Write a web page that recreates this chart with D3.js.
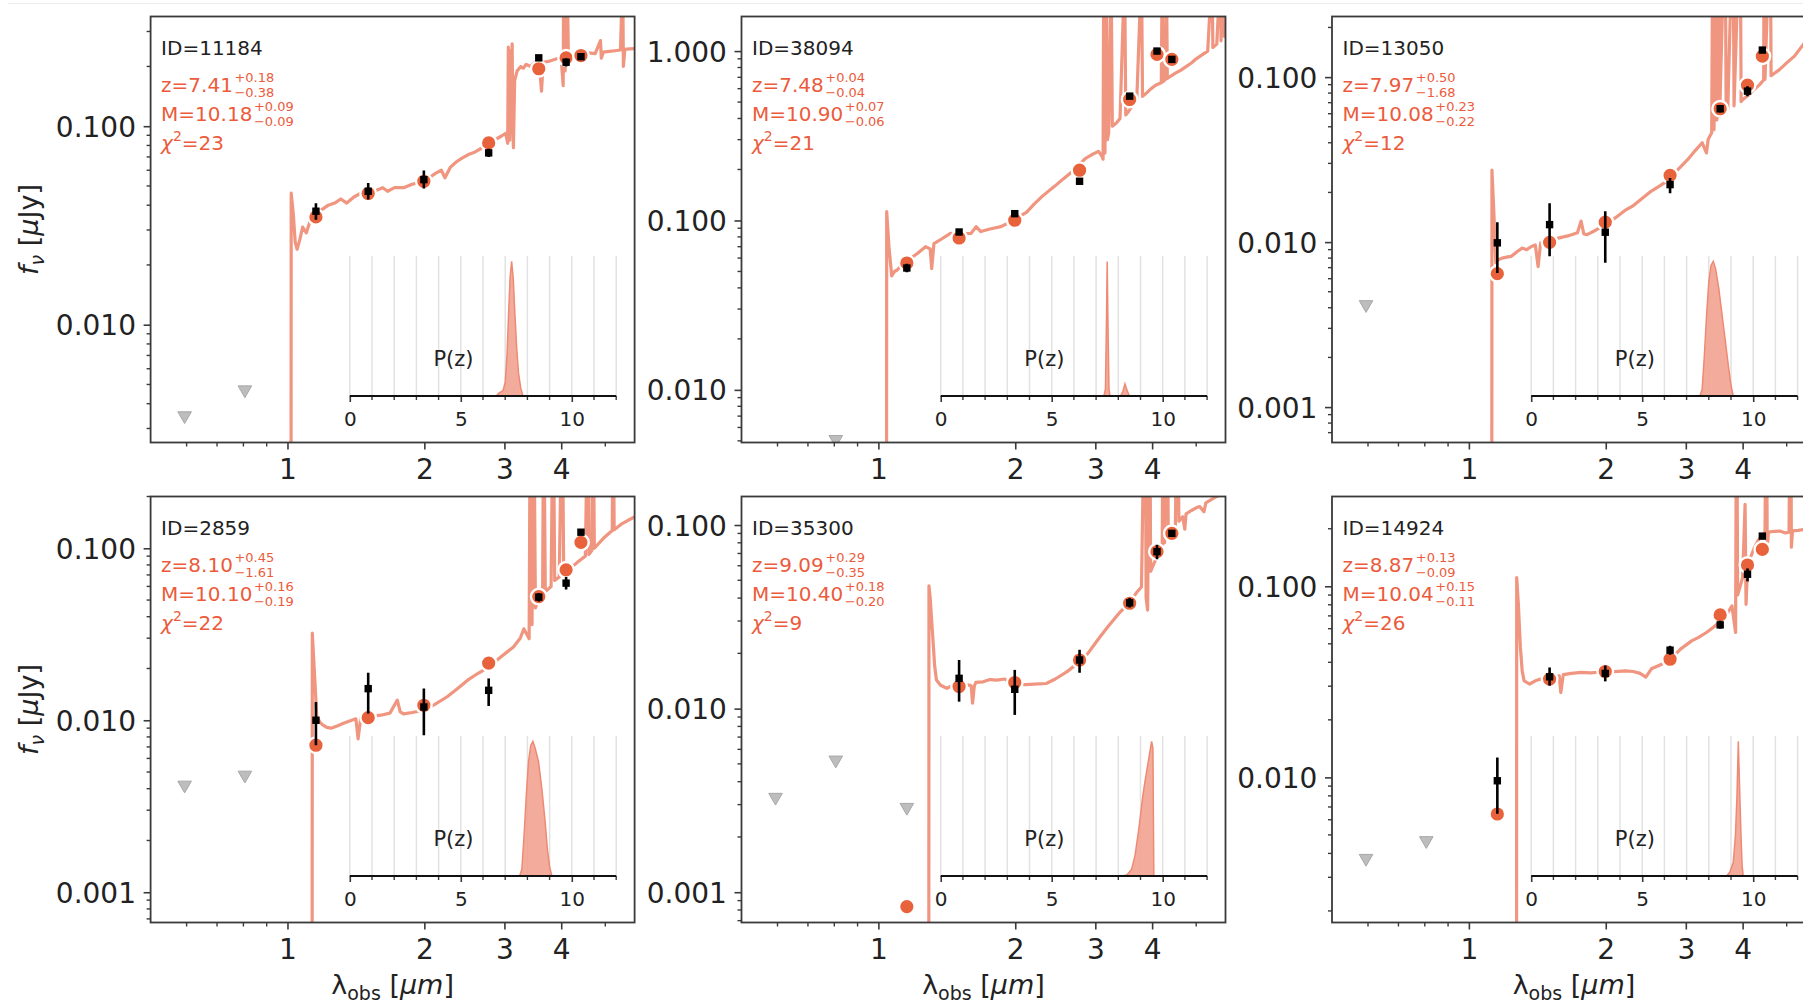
<!DOCTYPE html>
<html>
<head>
<meta charset="utf-8">
<script src="https://cdn.jsdelivr.net/npm/d3@7"></script>
<style>
  body { margin: 0; background: #fff; }
  svg { display: block; font-family: "DejaVu Sans", sans-serif; }
</style>
</head>
<body>
<svg id="viz"></svg>
<script>
// ---- data ----
let panelIds = ["11184", "38094", "13050", "2859", "35300", "14924"];
let zBest = ["7.41", "7.48", "7.97", "8.10", "9.09", "8.87"];
let zUp = ["+0.18", "+0.04", "+0.50", "+0.45", "+0.29", "+0.13"];
let zDown = ["−0.38", "−0.04", "−1.68", "−1.61", "−0.35", "−0.09"];
let massBest = ["10.18", "10.90", "10.08", "10.10", "10.40", "10.04"];
let massUp = ["+0.09", "+0.07", "+0.23", "+0.16", "+0.18", "+0.15"];
let massDown = ["−0.09", "−0.06", "−0.22", "−0.19", "−0.20", "−0.11"];
let chi2 = ["23", "21", "12", "22", "9", "26"];

// filter pivot wavelengths (micron)
let filterLam = [0.594, 0.806, 1.155, 1.505, 1.995, 2.77, 3.57, 4.10, 4.42];

let obsFlux = [
  [null, null, 0.0373, 0.047, 0.0538, 0.0734, 0.221, 0.210, 0.224],
  [null, null, 0.0524, 0.0855, 0.1097, 0.1704, 0.542, 1.0, 0.893],
  [null, null, 0.0099, 0.01276, 0.01148, 0.0223, 0.0643, 0.0822, 0.1458],
  [null, null, 0.0100, 0.01527, 0.01195, 0.01493, 0.052, 0.0627, 0.124],
  [null, null, null, 0.01462, 0.01274, 0.0184, 0.0377, 0.0716, 0.0901],
  [null, null, 0.0096, 0.0336, 0.0350, 0.0463, 0.0628, 0.1156, 0.183]
];
let obsLo = [
  [null, null, 0.0338, 0.0427, 0.0485, 0.070, 0.214, 0.200, 0.218],
  [null, null, 0.0495, 0.082, 0.105, 0.165, 0.525, 0.97, 0.87],
  [null, null, 0.0065, 0.00822, 0.0075, 0.0198, 0.061, 0.0765, 0.141],
  [null, null, 0.00716, 0.01094, 0.00818, 0.0121, 0.049, 0.0575, 0.119],
  [null, null, null, 0.01091, 0.00924, 0.0157, 0.0355, 0.0650, 0.086],
  [null, null, 0.00645, 0.0302, 0.0318, 0.0438, 0.060, 0.106, 0.178]
];
let obsHi = [
  [null, null, 0.0409, 0.0518, 0.0598, 0.077, 0.228, 0.220, 0.230],
  [null, null, 0.0555, 0.089, 0.114, 0.176, 0.56, 1.03, 0.915],
  [null, null, 0.0132, 0.0172, 0.0154, 0.0245, 0.0675, 0.088, 0.150],
  [null, null, 0.01277, 0.0189, 0.0153, 0.0175, 0.055, 0.068, 0.129],
  [null, null, null, 0.0184, 0.01625, 0.0209, 0.040, 0.078, 0.094],
  [null, null, 0.0127, 0.0376, 0.0385, 0.0488, 0.066, 0.124, 0.188]
];
let modelFlux = [
  [null, null, 0.0349, 0.0458, 0.0528, 0.0824, 0.1947, 0.221, 0.227],
  [null, null, 0.0561, 0.0788, 0.1003, 0.198, 0.518, 0.956, 0.893],
  [null, null, 0.00644, 0.00997, 0.0132, 0.0254, 0.0643, 0.0894, 0.134],
  [null, null, 0.00716, 0.01035, 0.01222, 0.0215, 0.0524, 0.0749, 0.1083],
  [null, null, 0.000835, 0.0132, 0.01387, 0.0184, 0.0375, 0.0716, 0.0901],
  [null, null, 0.00643, 0.0327, 0.0358, 0.0415, 0.0708, 0.1292, 0.156]
];
// upper limits (grey triangles)
let limitFlux = [
  [0.00348, 0.0047, null, null, null, null, null, null, null],
  [null, 0.0051, null, null, null, null, null, null, null],
  [0.00418, null, null, null, null, null, null, null, null],
  [0.0042, 0.0048, null, null, null, null, null, null, null],
  [0.00329, 0.00525, 0.0029, null, null, null, null, null, null],
  [0.00377, 0.00467, null, null, null, null, null, null, null]
];

let xDomain = [0.5, 5.8];
let xMajor = [1, 2, 3, 4];
let xMinor = [0.6, 0.7, 0.8, 0.9, 5];
let yDomains = [
  [0.00255, 0.357],
  [0.00489, 1.60],
  [0.00061, 0.233],
  [0.000667, 0.20],
  [0.000684, 0.143],
  [0.00174, 0.295]
];
let yTickVals = [
  [0.01, 0.1],
  [0.01, 0.1, 1],
  [0.001, 0.01, 0.1],
  [0.001, 0.01, 0.1],
  [0.001, 0.01, 0.1],
  [0.01, 0.1]
];

// best-fit model spectra [lambda, f_nu]
let spec11184 = [[0.5,1e-6],[1.017,1e-6],[1.019,0.046],[1.03,0.036],[1.04,0.026],[1.05,0.024],[1.065,0.027],[1.08,0.031],[1.10,0.029],[1.12,0.033],[1.15,0.036],[1.19,0.038],[1.23,0.040],[1.27,0.041],[1.31,0.043],[1.35,0.041],[1.40,0.044],[1.45,0.046],[1.55,0.047],[1.62,0.049],[1.66,0.047],[1.72,0.049],[1.80,0.049],[1.88,0.051],[1.95,0.052],[2.05,0.055],[2.12,0.058],[2.18,0.060],[2.22,0.055],[2.28,0.062],[2.35,0.066],[2.42,0.069],[2.50,0.072],[2.58,0.074],[2.66,0.077],[2.75,0.081],[2.85,0.085],[2.95,0.089],[3.02,0.092],[3.05,0.082],[3.06,0.25],[3.07,0.10],[3.08,0.085],[3.09,0.24],[3.10,0.11],[3.12,0.26],[3.13,0.095],[3.14,0.078],[3.16,0.17],[3.20,0.19],[3.26,0.20],[3.30,0.196],[3.35,0.205],[3.42,0.20],[3.50,0.21],[3.58,0.205],[3.62,0.15],[3.65,0.21],[3.75,0.212],[3.85,0.216],[3.95,0.22],[4.00,0.218],[4.04,0.16],[4.05,0.6],[4.08,0.19],[4.12,0.6],[4.15,0.21],[4.22,0.225],[4.32,0.23],[4.45,0.228],[4.60,0.234],[4.75,0.232],[4.88,0.27],[4.90,0.22],[4.95,0.236],[5.10,0.238],[5.25,0.24],[5.40,0.242],[5.46,0.6],[5.48,0.20],[5.52,0.244],[5.65,0.245],[5.8,0.246]];
let spec38094 = [[0.5,1e-6],[1.041,1e-6],[1.043,0.113],[1.055,0.07],[1.07,0.047],[1.085,0.05],[1.10,0.051],[1.13,0.055],[1.17,0.059],[1.22,0.064],[1.27,0.070],[1.30,0.068],[1.31,0.052],[1.325,0.073],[1.38,0.078],[1.44,0.084],[1.52,0.083],[1.60,0.084],[1.64,0.092],[1.68,0.086],[1.76,0.089],[1.86,0.092],[1.95,0.098],[2.05,0.106],[2.12,0.112],[2.2,0.125],[2.28,0.137],[2.36,0.148],[2.44,0.159],[2.55,0.176],[2.65,0.191],[2.75,0.21],[2.85,0.232],[2.95,0.245],[3.05,0.256],[3.10,0.24],[3.12,0.23],[3.13,3],[3.15,0.25],[3.17,3],[3.19,0.3],[3.21,0.33],[3.25,3],[3.27,0.36],[3.34,0.377],[3.40,0.40],[3.48,3],[3.50,0.42],[3.55,0.44],[3.62,0.48],[3.70,0.51],[3.79,3],[3.81,0.54],[3.90,0.57],[3.98,0.60],[4.08,0.63],[4.19,0.65],[4.21,3],[4.23,0.66],[4.28,0.68],[4.30,3],[4.32,0.69],[4.39,0.71],[4.5,0.74],[4.62,0.77],[4.75,0.81],[4.88,0.85],[5.0,0.90],[5.15,0.95],[5.30,1.0],[5.42,3],[5.44,1.05],[5.55,1.1],[5.65,3],[5.67,1.15],[5.75,3],[5.77,1.22],[5.8,1.25]];
let spec13050 = [[0.5,1e-6],[1.122,1e-6],[1.124,0.0273],[1.135,0.015],[1.146,0.0075],[1.16,0.0078],[1.183,0.0080],[1.21,0.0081],[1.24,0.0082],[1.28,0.0088],[1.31,0.0092],[1.34,0.0090],[1.373,0.0094],[1.40,0.0096],[1.42,0.0071],[1.438,0.0099],[1.50,0.0102],[1.58,0.0106],[1.65,0.0109],[1.733,0.0114],[1.765,0.0134],[1.79,0.0112],[1.82,0.0111],[1.90,0.0118],[1.97,0.0125],[2.05,0.0134],[2.126,0.0144],[2.2,0.0155],[2.29,0.0165],[2.40,0.0183],[2.515,0.0203],[2.64,0.0221],[2.76,0.0239],[2.90,0.028],[3.03,0.0317],[3.15,0.036],[3.26,0.040],[3.33,0.0347],[3.36,0.042],[3.42,0.046],[3.44,1],[3.46,0.048],[3.49,1],[3.51,0.055],[3.54,1],[3.56,0.058],[3.66,1],[3.68,0.062],[3.71,0.064],[3.81,1],[3.83,0.067],[3.95,1],[3.97,0.071],[4.0,0.073],[4.12,0.078],[4.24,0.084],[4.36,0.09],[4.45,0.096],[4.46,1],[4.48,0.097],[4.60,1],[4.62,0.102],[4.82,0.111],[5.0,0.122],[5.2,0.134],[5.48,0.162],[5.8,0.18]];
let spec2859 = [[0.5,1e-6],[1.132,1e-6],[1.134,0.0321],[1.145,0.02],[1.16,0.0105],[1.18,0.0097],[1.195,0.0094],[1.22,0.0091],[1.247,0.0090],[1.29,0.0093],[1.328,0.0096],[1.37,0.0099],[1.414,0.0102],[1.43,0.0078],[1.45,0.0104],[1.52,0.0105],[1.604,0.0107],[1.68,0.0110],[1.744,0.0131],[1.77,0.0112],[1.80,0.0109],[1.88,0.0111],[1.987,0.0114],[2.1,0.0123],[2.245,0.0137],[2.36,0.0152],[2.49,0.0171],[2.62,0.0187],[2.77,0.0204],[2.95,0.0234],[3.14,0.0267],[3.25,0.030],[3.31,0.034],[3.40,0.0298],[3.42,0.9],[3.45,0.036],[3.48,0.9],[3.51,0.045],[3.56,0.0497],[3.64,0.053],[3.66,0.9],[3.69,0.056],[3.80,0.060],[3.84,0.9],[3.87,0.065],[3.96,0.068],[4.02,0.9],[4.05,0.071],[4.12,0.074],[4.25,0.079],[4.39,0.085],[4.52,0.090],[4.58,0.9],[4.60,0.092],[4.67,0.097],[4.70,0.9],[4.73,0.100],[4.98,0.116],[5.18,0.127],[5.20,0.9],[5.23,0.128],[5.42,0.138],[5.6,0.145],[5.8,0.152]];
let spec35300 = [[0.5,1e-6],[1.29,1e-6],[1.292,0.0466],[1.30,0.04],[1.314,0.0268],[1.33,0.017],[1.342,0.0143],[1.37,0.0134],[1.414,0.0129],[1.46,0.0134],[1.538,0.0137],[1.60,0.0133],[1.611,0.0107],[1.625,0.0132],[1.638,0.0139],[1.70,0.0140],[1.76,0.0144],[1.82,0.0143],[1.898,0.0145],[1.95,0.0138],[2.02,0.0136],[2.107,0.0135],[2.2,0.0136],[2.34,0.0137],[2.45,0.0145],[2.6,0.0159],[2.75,0.0178],[2.89,0.020],[3.05,0.024],[3.2,0.028],[3.38,0.033],[3.56,0.0375],[3.70,0.043],[3.79,0.046],[3.86,0.9],[3.88,0.040],[3.91,0.0344],[3.95,0.9],[3.97,0.056],[4.04,0.062],[4.12,0.069],[4.21,0.076],[4.23,0.9],[4.26,0.080],[4.32,0.9],[4.34,0.085],[4.39,0.090],[4.50,0.100],[4.55,0.9],[4.58,0.105],[4.67,0.111],[4.72,0.095],[4.75,0.115],[4.88,0.12],[5.0,0.124],[5.09,0.126],[5.2,0.118],[5.25,0.132],[5.53,0.1426],[5.8,0.150]];
let spec14924 = [[0.5,1e-6],[1.272,1e-6],[1.274,0.111],[1.285,0.08],[1.298,0.048],[1.31,0.036],[1.323,0.032],[1.36,0.0308],[1.40,0.032],[1.438,0.0327],[1.48,0.033],[1.521,0.0333],[1.58,0.034],[1.593,0.0278],[1.613,0.0345],[1.68,0.035],[1.765,0.0354],[1.85,0.0352],[1.93,0.0355],[2.0,0.0356],[2.1,0.0358],[2.21,0.0361],[2.30,0.0358],[2.38,0.035],[2.45,0.0335],[2.52,0.037],[2.61,0.0384],[2.76,0.0408],[2.92,0.0469],[3.09,0.0518],[3.20,0.054],[3.33,0.0573],[3.45,0.061],[3.58,0.0659],[3.70,0.072],[3.79,0.0789],[3.86,0.0573],[3.88,2],[3.90,0.09],[4.0,0.111],[4.05,0.268],[4.07,0.0805],[4.10,0.125],[4.16,0.141],[4.24,0.158],[4.32,0.1725],[4.40,0.185],[4.48,0.19],[4.51,2],[4.53,0.159],[4.56,0.192],[4.70,0.194],[4.83,0.1946],[4.97,0.19],[5.06,0.192],[5.10,2],[5.12,0.16],[5.15,0.195],[5.30,0.196],[5.48,0.1986],[5.8,0.20]];
let specs = [spec11184, spec38094, spec13050, spec2859, spec35300, spec14924];

// redshift probability distributions [z, P (peak = 1)]
let pz11184 = [[6.6,0],[6.7,0.02],[6.9,0.04],[7.0,0.1],[7.08,0.3],[7.15,0.6],[7.22,0.88],[7.29,1.0],[7.36,0.88],[7.44,0.6],[7.52,0.35],[7.6,0.17],[7.7,0.06],[7.8,0]];
let pz38094 = [[7.35,0],[7.42,0.05],[7.47,0.6],[7.5,1.0],[7.53,0.6],[7.58,0.05],[7.63,0],[8.1,0],[8.2,0.03],[8.3,0.09],[8.4,0.04],[8.5,0]];
let pz13050 = [[7.6,0],[7.7,0.05],[7.8,0.3],[7.9,0.6],[8.0,0.85],[8.1,0.97],[8.2,1.0],[8.3,0.95],[8.45,0.8],[8.6,0.6],[8.75,0.4],[8.9,0.2],[9.0,0.08],[9.1,0]];
let pz2859 = [[7.65,0],[7.75,0.05],[7.85,0.3],[7.95,0.6],[8.05,0.85],[8.15,0.97],[8.25,1.0],[8.35,0.95],[8.5,0.85],[8.65,0.65],[8.8,0.4],[8.9,0.2],[9.0,0.07],[9.1,0]];
let pz35300 = [[8.2,0],[8.4,0.01],[8.6,0.05],[8.75,0.15],[8.9,0.32],[9.0,0.45],[9.1,0.59],[9.2,0.7],[9.3,0.8],[9.4,0.9],[9.5,1.0],[9.56,0.95],[9.6,0]];
let pz14924 = [[8.8,0],[8.95,0.03],[9.1,0.1],[9.2,0.3],[9.27,0.6],[9.33,1.0],[9.38,0.7],[9.45,0.3],[9.5,0.08],[9.55,0]];
let pzs = [pz11184, pz38094, pz13050, pz2859, pz35300, pz14924];

let pzMajor = [0, 5, 10];
let pzMinor = [1, 2, 3, 4, 6, 7, 8, 9, 11, 12];
let pzGrid = [0, 1, 2, 3, 4, 5, 6, 7, 8, 9, 10, 11, 12];

// ---- layout ----
let width = 1803, height = 1002;
let panelW = 484, panelH = 426;
let colLeft = [150.6, 741.5, 1332];
let rowTop = [16.5, 496.5];
let insetLeft = 199.2, insetTop = 239.5, insetW = 266.4, insetH = 140;

let specColor = "#f0957f";
let modelColor = "#e8623c";
let textRed = "#ec5b3c";
let inkColor = "#222";
let spineColor = "#3a3a3a";

let svg = d3.select("#viz")
    .attr("width", width)
    .attr("height", height);

svg.append("line")
    .attr("x1", 8).attr("x2", width)
    .attr("y1", 3.5).attr("y2", 3.5)
    .attr("stroke", "#ececec").attr("stroke-width", 1);

let xScale = d3.scaleLog().domain(xDomain).range([0, panelW]);
let zScale = d3.scaleLinear().domain([0, 12]).range([0, insetW]);
let pScale = d3.scaleLinear().domain([0, 1.04]).range([insetH, 0]);

function styleAxis(ax, size) {
    ax.attr("font-size", null).attr("font-family", null);
    ax.select(".domain").remove();
    ax.selectAll("line").attr("stroke", spineColor).attr("stroke-width", 1.6);
    ax.selectAll("text").attr("fill", inkColor).attr("font-size", size);
}

panelIds.forEach(function(id, i) {
    let col = i % 3, row = Math.floor(i / 3);
    let g = svg.append("g")
        .attr("transform", "translate(" + colLeft[col] + "," + rowTop[row] + ")");
    let y = d3.scaleLog().domain(yDomains[i]).range([panelH, 0]);

    g.append("clipPath").attr("id", "clip" + i)
        .append("rect").attr("width", panelW).attr("height", panelH);
    let plot = g.append("g").attr("clip-path", "url(#clip" + i + ")");

    // model spectrum
    plot.append("path")
        .datum(specs[i])
        .attr("d", d3.line().x(d => xScale(d[0])).y(d => y(d[1])))
        .attr("fill", "none")
        .attr("stroke", specColor)
        .attr("stroke-width", 3.2)
        .attr("stroke-linejoin", "round");

    // upper limits
    let lims = filterLam.map((l, k) => [l, limitFlux[i][k]]).filter(d => d[1] != null);
    plot.selectAll("path.lim")
        .data(lims)
        .enter().append("path")
        .attr("class", "lim")
        .attr("d", d3.symbol(d3.symbolTriangle, 80))
        .attr("transform", d => "translate(" + xScale(d[0]) + "," + y(d[1]) + ") rotate(180)")
        .attr("fill", "#bdbdbd")
        .attr("stroke", "#a8a8a8")
        .attr("stroke-width", 1);

    // model photometry
    let mods = filterLam.map((l, k) => [l, modelFlux[i][k]]).filter(d => d[1] != null);
    plot.selectAll("circle.mod")
        .data(mods)
        .enter().append("circle")
        .attr("class", "mod")
        .attr("cx", d => xScale(d[0]))
        .attr("cy", d => y(d[1]))
        .attr("r", 7.8)
        .attr("fill", modelColor)
        .attr("stroke", "#fff")
        .attr("stroke-width", 2.4);

    // observed photometry with error bars
    let obs = filterLam.map((l, k) => [l, obsFlux[i][k], obsLo[i][k], obsHi[i][k]]).filter(d => d[1] != null);
    plot.selectAll("line.err")
        .data(obs)
        .enter().append("line")
        .attr("class", "err")
        .attr("x1", d => xScale(d[0])).attr("x2", d => xScale(d[0]))
        .attr("y1", d => y(d[2])).attr("y2", d => y(d[3]))
        .attr("stroke", "#000")
        .attr("stroke-width", 2.6);
    plot.selectAll("rect.obs")
        .data(obs)
        .enter().append("rect")
        .attr("class", "obs")
        .attr("x", d => xScale(d[0]) - 3.7)
        .attr("y", d => y(d[1]) - 3.7)
        .attr("width", 7.4).attr("height", 7.4)
        .attr("fill", "#000");

    // P(z) inset
    let inset = g.append("g")
        .attr("transform", "translate(" + insetLeft + "," + insetTop + ")");
    inset.selectAll("line.grid")
        .data(pzGrid)
        .enter().append("line")
        .attr("class", "grid")
        .attr("x1", d => zScale(d)).attr("x2", d => zScale(d))
        .attr("y1", 0).attr("y2", insetH)
        .attr("stroke", "#e2e2e2")
        .attr("stroke-width", 1.5);
    inset.append("path")
        .datum(pzs[i])
        .attr("d", d3.area().x(d => zScale(d[0])).y0(insetH).y1(d => pScale(d[1])))
        .attr("fill", "#f2a391")
        .attr("fill-opacity", 0.9)
        .attr("stroke", "#ee8a74")
        .attr("stroke-width", 1.5);
    inset.append("text")
        .attr("x", 103.7).attr("y", 110)
        .attr("text-anchor", "middle")
        .attr("font-size", 21)
        .attr("fill", inkColor)
        .text("P(z)");
    let zAxis = inset.append("g")
        .attr("transform", "translate(0," + insetH + ")")
        .call(d3.axisBottom(zScale).tickValues(pzMajor).tickSize(6).tickFormat(d3.format("d")));
    styleAxis(zAxis, 20);
    zAxis.selectAll("text").attr("y", 30).attr("dy", null);
    zAxis.selectAll("line.minor")
        .data(pzMinor)
        .enter().append("line")
        .attr("class", "minor")
        .attr("x1", d => zScale(d)).attr("x2", d => zScale(d))
        .attr("y1", 0).attr("y2", 4)
        .attr("stroke", spineColor).attr("stroke-width", 1.4);
    inset.append("line")
        .attr("x1", 0).attr("x2", insetW)
        .attr("y1", insetH).attr("y2", insetH)
        .attr("stroke", "#111").attr("stroke-width", 2);

    // axes
    let xAxis = g.append("g")
        .attr("transform", "translate(0," + panelH + ")")
        .call(d3.axisBottom(xScale).tickValues(xMajor).tickSize(7).tickFormat(d3.format("d")));
    styleAxis(xAxis, 28);
    xAxis.selectAll("text").attr("y", 36).attr("dy", null);
    xAxis.selectAll("line.minor")
        .data(xMinor)
        .enter().append("line")
        .attr("class", "minor")
        .attr("x1", d => xScale(d)).attr("x2", d => xScale(d))
        .attr("y1", 0).attr("y2", 4)
        .attr("stroke", spineColor).attr("stroke-width", 1.4);

    let yAxis = g.append("g")
        .call(d3.axisLeft(y).tickValues(yTickVals[i]).tickSize(7).tickFormat(d3.format(".3f")));
    styleAxis(yAxis, 28);
    yAxis.selectAll("text").attr("x", -14.6).attr("dy", "0.36em");
    let yMinor = y.ticks().filter(v => yTickVals[i].indexOf(v) < 0 && Math.abs(Math.log10(v) - Math.round(Math.log10(v))) > 1e-6);
    yAxis.selectAll("line.minor")
        .data(yMinor)
        .enter().append("line")
        .attr("class", "minor")
        .attr("x1", 0).attr("x2", -4)
        .attr("y1", d => y(d)).attr("y2", d => y(d))
        .attr("stroke", spineColor).attr("stroke-width", 1.4);

    // spines
    g.append("rect")
        .attr("width", panelW).attr("height", panelH)
        .attr("fill", "none")
        .attr("stroke", spineColor)
        .attr("stroke-width", 1.8);

    // fit summary text
    let ann = g.append("g").attr("transform", "translate(10.5,0)");
    ann.append("text")
        .attr("y", 38.5)
        .attr("font-size", 20)
        .attr("fill", inkColor)
        .text("ID=" + id);

    // value with stacked +/- errors
    function withErrors(label, best, up, down, base) {
        let t = ann.append("text")
            .attr("y", base)
            .attr("font-size", 20)
            .attr("fill", textRed)
            .text(label + best);
        let w = t.node().getComputedTextLength() + 1.5;
        ann.append("text").attr("x", w).attr("y", base - 9.8)
            .attr("font-size", 13).attr("fill", textRed).text(up);
        ann.append("text").attr("x", w).attr("y", base + 5.4)
            .attr("font-size", 13).attr("fill", textRed).text(down);
    }
    withErrors("z=", zBest[i], zUp[i], zDown[i], 75);
    withErrors("M=", massBest[i], massUp[i], massDown[i], 104.5);

    let chiText = ann.append("text")
        .attr("y", 133.5)
        .attr("font-size", 20)
        .attr("fill", textRed);
    chiText.append("tspan").attr("font-style", "italic").text("χ");
    chiText.append("tspan").attr("font-size", 14).attr("dy", -9).text("2");
    chiText.append("tspan").attr("dy", 9).text("=" + chi2[i]);

    // axis labels
    if (col === 0) {
        let yl = g.append("text")
            .attr("transform", "translate(" + (38 - colLeft[0]) + "," + (panelH / 2) + ") rotate(-90)")
            .attr("text-anchor", "middle")
            .attr("font-size", 27)
            .attr("fill", inkColor);
        yl.append("tspan").attr("font-style", "italic").text("f");
        yl.append("tspan").attr("font-style", "italic").attr("font-size", 19).attr("dy", 6).text("ν");
        yl.append("tspan").attr("dy", -6).text(" [");
        yl.append("tspan").attr("font-style", "italic").text("μ");
        yl.append("tspan").text("Jy]");
    }
    if (row === 1) {
        let xl = g.append("text")
            .attr("x", panelW / 2)
            .attr("y", panelH + 71)
            .attr("text-anchor", "middle")
            .attr("font-size", 27)
            .attr("fill", inkColor);
        xl.append("tspan").text("λ");
        xl.append("tspan").attr("font-size", 19).attr("dy", 6).text("obs");
        xl.append("tspan").attr("dy", -6).text(" [");
        xl.append("tspan").attr("font-style", "italic").text("μm");
        xl.append("tspan").text("]");
    }
});
</script>
</body>
</html>
